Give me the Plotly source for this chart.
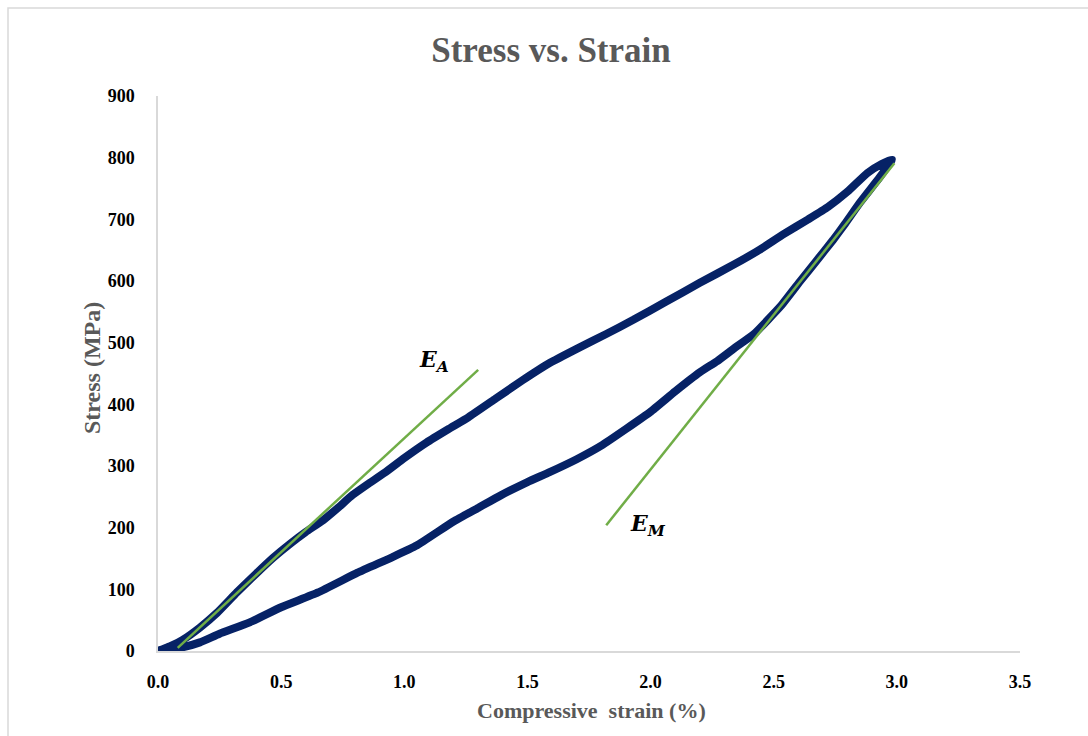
import plotly.graph_objects as go

# Loading branch (strain %, stress MPa)
load_strain = [0, 0.05, 0.10, 0.17, 0.24, 0.32, 0.40, 0.47, 0.54, 0.60, 0.67, 0.73, 0.79, 0.85,
               0.92, 1.00, 1.09, 1.18, 1.26, 1.37, 1.48, 1.59, 1.70, 1.82, 1.93, 2.06, 2.20,
               2.34, 2.44, 2.54, 2.64, 2.72, 2.80, 2.88, 2.94, 2.98]
load_stress = [0, 8, 18, 38, 62, 95, 126, 152, 175, 193, 212, 232, 253, 270,
               289, 313, 338, 360, 379, 409, 439, 467, 490, 514, 537, 566, 597,
               627, 650, 676, 700, 720, 745, 775, 790, 797]

# Unloading branch
unload_strain = [2.98, 2.93, 2.85, 2.79, 2.74, 2.67, 2.61, 2.53, 2.42, 2.34, 2.27, 2.20, 2.10,
                 2.00, 1.90, 1.80, 1.70, 1.59, 1.50, 1.39, 1.30, 1.20, 1.05, 0.95, 0.81,
                 0.65, 0.50, 0.37, 0.25, 0.17, 0.10, 0.05, 0]
unload_stress = [797, 768, 727, 693, 666, 631, 601, 560, 514, 491, 470, 452, 421,
                 388, 360, 333, 311, 290, 274, 252, 232, 210, 171, 152, 127,
                 95, 71, 46, 28, 14, 6, 3, 0]

# Tangent (modulus) lines
ea_strain = [0.08, 1.30]
ea_stress = [5, 456]
em_strain = [1.82, 2.99]
em_stress = [204, 791]

x_ticks = [0.0, 0.5, 1.0, 1.5, 2.0, 2.5, 3.0, 3.5]
y_ticks = [0, 100, 200, 300, 400, 500, 600, 700, 800, 900]

navy = "#062266"
green = "#70ad47"
serif = "Liberation Serif, Times New Roman, serif"

fig = go.Figure()
fig.add_trace(go.Scatter(x=load_strain + unload_strain[1:], y=load_stress + unload_stress[1:],
                         mode="lines", line=dict(color=navy, width=8, shape="spline", smoothing=0.4),
                         showlegend=False, hoverinfo="skip"))
fig.add_trace(go.Scatter(x=ea_strain, y=ea_stress, mode="lines",
                         line=dict(color=green, width=2.5), showlegend=False))
fig.add_trace(go.Scatter(x=em_strain, y=em_stress, mode="lines",
                         line=dict(color=green, width=2.5), showlegend=False))

fig.add_annotation(x=1.12, y=470, text="<b><i>E</i><sub><i>A</i></sub></b>", showarrow=False,
                   font=dict(family="DejaVu Serif", size=22, color="black"))
fig.add_annotation(x=1.99, y=205, text="<b><i>E</i><sub><i>M</i></sub></b>", showarrow=False,
                   font=dict(family="DejaVu Serif", size=22, color="black"))

# Axis titles as annotations for exact placement
fig.add_annotation(xref="paper", yref="paper", x=(92 - 158) / 862, y=(651 - 368) / 555,
                   text="<b>Stress (MPa)</b>", textangle=-90, showarrow=False,
                   xanchor="center", yanchor="middle",
                   font=dict(family=serif, size=24, color="#595959"))
fig.add_annotation(xref="paper", yref="paper", x=(591 - 158) / 862, y=(651 - 710) / 555,
                   text="<b>Compressive  strain (%)</b>", showarrow=False,
                   xanchor="center", yanchor="middle",
                   font=dict(family=serif, size=22, color="#595959"))

fig.update_layout(
    width=1088, height=736,
    margin=dict(l=158, r=68, t=96, b=85),
    paper_bgcolor="white", plot_bgcolor="white",
    title=dict(text="<b>Stress vs. Strain</b>", x=551 / 1088, xref="container", xanchor="center",
               y=1 - 50 / 736, yanchor="middle", yref="container",
               font=dict(family=serif, size=35, color="#595959")),
    font=dict(family=serif),
)

fig.update_xaxes(range=[0, 3.5], tickvals=x_ticks, ticktext=[f"{v:.1f}" for v in x_ticks],
                 showgrid=False, zeroline=False, showline=True, linecolor="#d9d9d9", linewidth=1.5,
                 ticks="", ticklabelstandoff=14,
                 tickfont=dict(family=serif, size=18, color="black", weight="bold"))
fig.update_yaxes(range=[0, 900], tickvals=y_ticks, showgrid=False, zeroline=False,
                 showline=True, linecolor="#d9d9d9", linewidth=1.5, ticks="", ticklabelstandoff=18,
                 tickfont=dict(family=serif, size=18, color="black", weight="bold"))

# Outer chart frame
fig.add_shape(type="rect", xref="paper", yref="paper",
              x0=(8 - 158) / 862, x1=(1095 - 158) / 862,
              y0=(651 - 745) / 555, y1=(651 - 8) / 555,
              line=dict(color="#d9d9d9", width=1.5), fillcolor="rgba(0,0,0,0)", layer="below")

fig.write_html("out.html")
